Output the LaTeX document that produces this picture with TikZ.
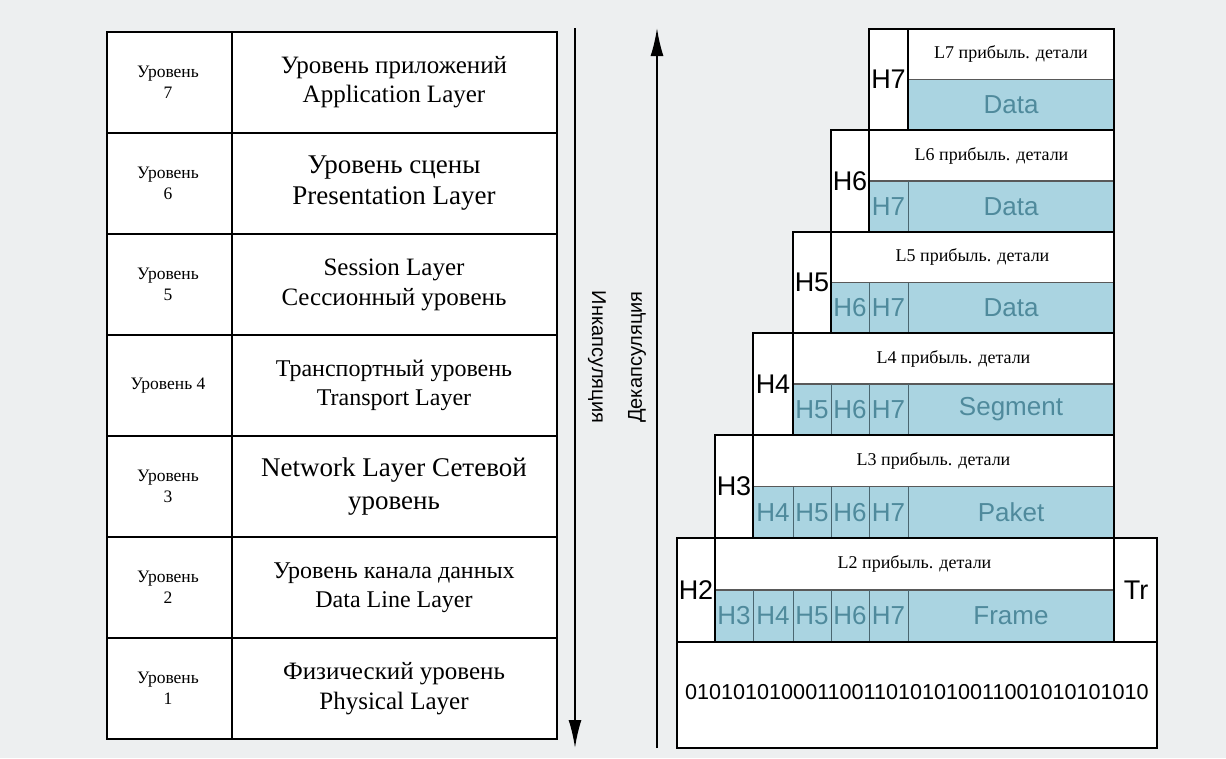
\documentclass[tikz,border=0pt]{standalone}
\usepackage{fontspec}
\setmainfont{Liberation Serif}
\setsansfont{Liberation Sans}
\usetikzlibrary{arrows.meta}
\definecolor{paper}{HTML}{EDEFF0}
\definecolor{pdublue}{HTML}{AAD4E1}
\definecolor{pduink}{HTML}{4F8A9C}
\definecolor{divline}{HTML}{4A6670}
\tikzset{
  tableline/.style = {line width=2.4pt,line join=miter},
  blockline/.style = {line width=2.4pt,line join=miter},
  celldiv/.style   = {divline,line width=1pt},
  stripline/.style = {gray!70!black,line width=1.4pt},
  flowarr/.style   = {-{Latex[length=28pt,width=13pt]},line width=2pt},
  lvltext/.style   = {align=center,font=\fontsize{17.5}{21}\selectfont},
  hdrtext/.style   = {font=\sffamily\fontsize{27}{30}\selectfont},
  celltext/.style  = {pduink,font=\sffamily\fontsize{26}{30}\selectfont},
  striptext/.style = {font=\fontsize{18}{20}\selectfont},
  sidetext/.style  = {font=\sffamily\fontsize{20}{22}\selectfont}
}
% one block of the stack: level, top, bottom, payload
\newcommand{\pdublock}[4]{%
  \pgfmathsetmacro{\blkL}{{677,715,753,793,831,869,908}[#1-2]}
  \pgfmathsetmacro{\blkH}{{677,715,753,793,831,869,908}[#1-1]}
  \pgfmathsetmacro{\blkM}{(#2+#3)/2}
  \fill[white] (\blkL,#2) rectangle (1114,#3);
  \fill[pdublue] (\blkH,\blkM) rectangle (1114,#3);
  \draw[stripline] (\blkH,\blkM) -- (1114,\blkM);
  \ifnum#1<7
    \pgfmathtruncatemacro{\blkLo}{#1+1}
    \foreach \j in {\blkLo,...,7}{
      \pgfmathsetmacro{\ca}{{677,715,753,793,831,869,908}[\j-2]}
      \pgfmathsetmacro{\cb}{{677,715,753,793,831,869,908}[\j-1]}
      \draw[celldiv] (\cb,\blkM) -- (\cb,#3);
      \node[celltext] (c#1h\j) at ({(\ca+\cb)/2},{(\blkM+#3)/2}) {H\j};
    }
  \fi
  \node[celltext] (pay#1) at (1011,{(\blkM+#3)/2}) {#4};
  \node[striptext] (strip#1) at ({(\blkH+1114)/2},{(#2+\blkM)/2}) {L#1 прибыль. детали};
  \draw[blockline] (\blkL,#2) rectangle (1114,#3);
  \draw[blockline] (\blkH,#2) -- (\blkH,#3);
  \node[hdrtext] (h#1) at ({(\blkL+\blkH)/2},\blkM) {H#1};
}

\begin{document}
\begin{tikzpicture}[x=1pt,y=-1pt]
  \fill[paper] (0,0) rectangle (1226,758);
  \useasboundingbox (0,0) rectangle (1226,758);

  % OSI levels
  \foreach \lv/\lab/\txt/\fs/\ls in {
      7/{Уровень\\7}/{Уровень приложений\\Application Layer}/25/29,
      6/{Уровень\\6}/{Уровень сцены\\Presentation Layer}/27/31,
      5/{Уровень\\5}/{Session Layer\\Сессионный уровень}/25/30,
      4/{Уровень 4}/{Транспортный уровень\\Transport Layer}/24/29,
      3/{Уровень\\3}/{Network Layer Сетевой\\уровень}/27/33,
      2/{Уровень\\2}/{Уровень канала данных\\Data Line Layer}/24/29,
      1/{Уровень\\1}/{Физический уровень\\Physical Layer}/25/30}{
    \pgfmathsetmacro{\yt}{32+(7-\lv)*101}
    \draw[tableline,fill=white] (107,\yt) rectangle (557,\yt+101);
    \draw[tableline] (232,\yt) -- (232,\yt+101);
    \node[lvltext] (lvl\lv) at (168,\yt+50.5) {\lab};
    \node[align=center,font=\fontsize{\fs}{\ls}\selectfont] (name\lv) at (394,\yt+50.5) {\txt};
  }

  % encapsulation / decapsulation
  \coordinate (encTop) at (575,28);
  \coordinate (encBot) at (575,748);
  \coordinate (decBot) at (657,748);
  \coordinate (decTop) at (657,28);
  \draw[flowarr] (encTop) -- (encBot);
  \draw[flowarr] (decBot) -- (decTop);
  \node[sidetext,rotate=-90] (encLbl) at (597,357) {Инкапсуляция};
  \node[sidetext,rotate=90]  (decLbl) at (637,357) {Декапсуляция};

  % the stack of headers
  \pdublock{7}{29}{130}{Data}
  \pdublock{6}{130}{232}{Data}
  \pdublock{5}{232}{333}{Data}
  \pdublock{4}{333}{435}{Segment}
  \pdublock{3}{435}{538}{Paket}
  \pdublock{2}{538}{642}{Frame}
  \draw[blockline,fill=white] (1114,538) rectangle (1157,642);
  \node[hdrtext] (tr) at (1136,590) {Tr};
  \draw[blockline,fill=white] (677,642) rectangle (1157,748);
  \node[font=\sffamily\fontsize{21.6}{24}\selectfont] (bits) at (917,692) {010101010001100110101010011001010101010};
\end{tikzpicture}
\end{document}
